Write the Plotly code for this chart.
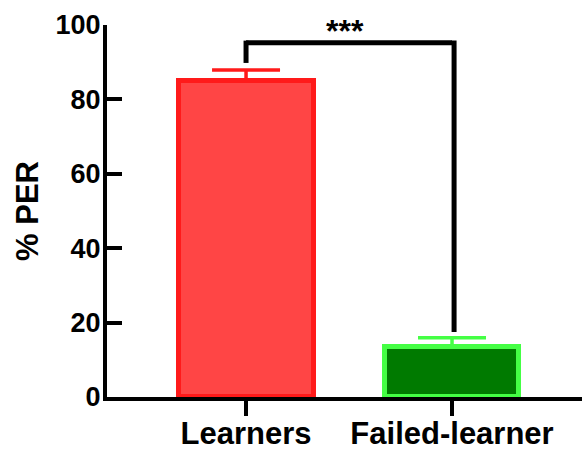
import plotly.graph_objects as go

# Proboscis extension response by learning group
groups = ["Learners", "Failed-learner"]
per_mean = [85.0, 13.4]
per_sem = [2.9, 2.5]
fill_colors = ["#FF4545", "#007A00"]
edge_colors = ["#FF1A1A", "#44FF44"]

# Significance bracket (y levels in % PER)
bracket_top = 95.2
bracket_left_end = 89.8
bracket_right_end = 17.5
sig_label = "***"

FONT = "Arial, Liberation Sans, sans-serif"
xpos = list(range(len(groups)))

fig = go.Figure()
for i, g in enumerate(groups):
    fig.add_trace(go.Bar(
        x=[xpos[i]], y=[per_mean[i]], width=0.655,
        marker=dict(color=fill_colors[i], line=dict(color=edge_colors[i], width=5)),
        error_y=dict(type="data", symmetric=False, array=[per_sem[i]], arrayminus=[0],
                     color=edge_colors[i], thickness=3.5, width=34),
        showlegend=False, name=g,
    ))

line_style = dict(color="black", width=5)
fig.add_shape(type="line", x0=xpos[0], x1=xpos[1], y0=bracket_top, y1=bracket_top,
              xref="x", yref="y", line=line_style)
fig.add_shape(type="line", x0=xpos[0], x1=xpos[0], y0=bracket_left_end, y1=bracket_top + 0.6,
              xref="x", yref="y", line=line_style)
fig.add_shape(type="line", x0=xpos[1] + 0.01, x1=xpos[1] + 0.01, y0=bracket_right_end, y1=bracket_top + 0.6,
              xref="x", yref="y", line=line_style)
fig.add_annotation(x=(xpos[0] + xpos[1]) / 2 - 0.02, y=98.3, text=f"<b>{sig_label}</b>",
                   xref="x", yref="y", showarrow=False, yanchor="middle",
                   font=dict(family=FONT, size=32, color="black"))

fig.update_layout(
    width=582, height=450,
    margin=dict(l=107, r=0, t=25, b=53),
    paper_bgcolor="white", plot_bgcolor="white",
    bargap=0,
    xaxis=dict(range=[-0.675, 1.631], tickvals=xpos, automargin=False,
               ticktext=[f"<b>{g}</b>" for g in groups],
               showline=True, linecolor="black", linewidth=4,
               ticks="outside", ticklen=15, tickwidth=4, tickcolor="black",
               ticklabelstandoff=-9,
               showgrid=False, zeroline=False,
               tickfont=dict(family=FONT, size=31, color="black")),
    yaxis=dict(range=[0, 100], tickvals=[0, 20, 40, 60, 80, 100], automargin=False,
               ticktext=[f"<b>{v}</b>" for v in [0, 20, 40, 60, 80, 100]],
               showline=True, linecolor="black", linewidth=4,
               ticks="inside", ticklen=15, tickwidth=4, tickcolor="black",
               ticklabelstandoff=-3,
               showgrid=False, zeroline=False,
               tickfont=dict(family=FONT, size=27, color="black"),
               title=dict(text="<b>% PER</b>", standoff=9,
                          font=dict(family=FONT, size=31, color="black"))),
)

fig.write_html("out.html")
